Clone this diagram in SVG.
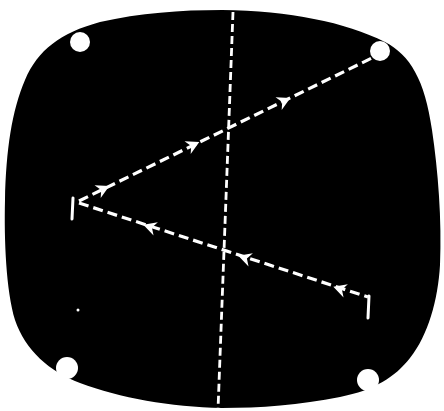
<svg xmlns="http://www.w3.org/2000/svg" width="444" height="411" viewBox="0 0 444 411">
<style>
.dash{fill:none;stroke:#fff;stroke-width:3.2;stroke-linecap:butt}
.diag{stroke-dasharray:10 5}
.vert{stroke-dasharray:8 4;stroke-width:2.8}
.bar{stroke:#fff;stroke-width:3;stroke-linecap:round}
.arr{fill:#fff}
.spot{fill:#fff}
</style>
<defs>
<polygon id="ah" points="7,0 -6,-7 -2,0 -6,7"/>
</defs>
<rect x="0" y="0" width="444" height="411" fill="#fff"/>
<g id="screen">
<path d="M222,10 C290,11 345,22 385,42 C410,55 425,80 432,130 C438,170 442,220 440,265 C438,300 428,335 410,358 C395,377 375,390 340,397 C300,405 260,408 222,408 C170,407 120,398 80,383 C50,372 25,350 15,320 C6,290 4,240 5,200 C6,150 12,110 25,80 C38,50 60,33 100,22 C140,13 180,10 222,10 Z" fill="#000"/>
</g>
<g id="connectors">
<line class="dash vert" x1="233" y1="12" x2="218" y2="410"/>
<line class="dash diag" x1="79" y1="201" x2="374" y2="57"/>
<line class="dash diag" x1="79" y1="203" x2="368" y2="297"/>
<g class="arr">
<use href="#ah" transform="translate(103,189) rotate(-26)"/>
<use href="#ah" transform="translate(193,145) rotate(-26)"/>
<use href="#ah" transform="translate(284,101) rotate(-26)"/>
<use href="#ah" transform="translate(150,227) rotate(-162)"/>
<use href="#ah" transform="translate(245,258) rotate(-162)"/>
<use href="#ah" transform="translate(340,289) rotate(-162)"/>
</g>
</g>
<g id="bar-left"><line class="bar" x1="73" y1="198" x2="72" y2="219"/></g>
<g id="bar-right"><line class="bar" x1="369" y1="296" x2="368" y2="318"/></g>
<g id="spot-tl"><circle class="spot" cx="80" cy="42" r="10"/></g>
<g id="spot-tr"><circle class="spot" cx="380" cy="51" r="10"/></g>
<g id="spot-bl"><circle class="spot" cx="67" cy="368" r="11"/></g>
<g id="spot-br"><circle class="spot" cx="368" cy="380" r="11"/></g>
<g id="speck"><circle class="spot" cx="78" cy="310" r="1.5"/></g>
</svg>
